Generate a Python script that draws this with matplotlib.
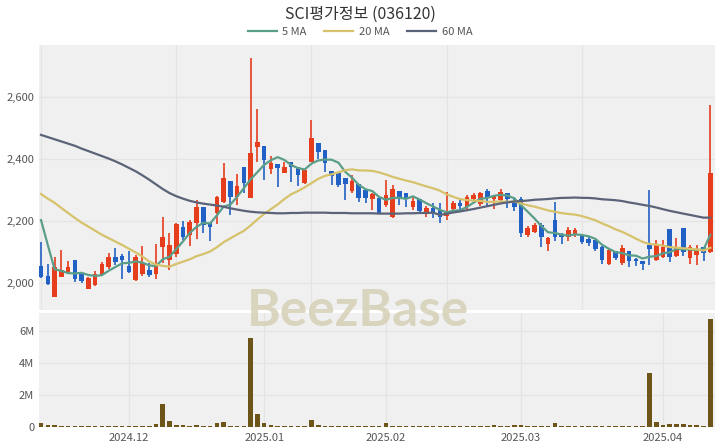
import numpy as np
import pandas as pd
import matplotlib
matplotlib.use("Agg")
import matplotlib.pyplot as plt

plt.rcParams["font.family"] = ["Noto Sans CJK KR", "DejaVu Sans"]

# =====================================
# DATA
# =====================================

TITLE = "SCI평가정보 (036120)"

opens = [2056, 2024, 1957, 2021, 2035, 2075, 2030, 1983, 1994, 2027,
         2051, 2086, 2088, 2056, 2011, 2030, 2043, 2030, 2118, 2075,
         2094, 2180, 2155, 2193, 2244, 2193, 2225, 2262, 2329, 2278,
         2374, 2273, 2439, 2442, 2368, 2384, 2356, 2391, 2373, 2323,
         2391, 2450, 2428, 2362, 2354, 2338, 2298, 2319, 2300, 2270,
         2273, 2252, 2212, 2298, 2291, 2244, 2270, 2223, 2241, 2236,
         2215, 2238, 2259, 2244, 2270, 2255, 2298, 2272, 2268, 2289,
         2259, 2270, 2155, 2166, 2187, 2126, 2204, 2158, 2150, 2158,
         2155, 2142, 2139, 2116, 2062, 2105, 2064, 2105, 2077, 2072,
         2123, 2075, 2086, 2174, 2088, 2177, 2080, 2091, 2116, 2102]
highs = [2134, 2062, 2085, 2107, 2072, 2075, 2034, 2021, 2038, 2069,
         2098, 2112, 2094, 2105, 2090, 2120, 2065, 2126, 2214, 2163,
         2194, 2200, 2205, 2268, 2244, 2193, 2281, 2387, 2329, 2351,
         2374, 2724, 2560, 2442, 2409, 2384, 2391, 2391, 2373, 2367,
         2525, 2450, 2428, 2362, 2354, 2338, 2348, 2319, 2300, 2289,
         2273, 2332, 2316, 2298, 2291, 2276, 2270, 2248, 2259, 2259,
         2295, 2265, 2268, 2283, 2291, 2292, 2302, 2284, 2302, 2289,
         2276, 2278, 2184, 2194, 2193, 2148, 2262, 2163, 2180, 2177,
         2155, 2148, 2139, 2120, 2111, 2105, 2123, 2105, 2081, 2072,
         2300, 2139, 2139, 2174, 2145, 2177, 2123, 2123, 2116, 2573]
lows = [2017, 1995, 1955, 2019, 2034, 2005, 2002, 1981, 1990, 2023,
        2045, 2059, 2013, 2032, 2008, 2023, 2020, 2013, 2064, 2043,
        2085, 2140, 2120, 2142, 2163, 2137, 2191, 2259, 2220, 2252,
        2290, 2273, 2391, 2332, 2351, 2309, 2354, 2327, 2313, 2320,
        2391, 2399, 2359, 2316, 2309, 2268, 2289, 2262, 2259, 2236,
        2222, 2246, 2209, 2252, 2246, 2234, 2225, 2214, 2209, 2195,
        2204, 2234, 2236, 2234, 2262, 2250, 2246, 2238, 2262, 2241,
        2233, 2148, 2148, 2163, 2118, 2105, 2137, 2126, 2137, 2150,
        2126, 2121, 2105, 2062, 2059, 2075, 2059, 2053, 2056, 2043,
        2059, 2073, 2080, 2067, 2084, 2088, 2062, 2059, 2070, 2096]
closes = [2020, 1998, 2051, 2043, 2051, 2015, 2008, 2016, 2029, 2062,
          2086, 2069, 2075, 2037, 2084, 2066, 2026, 2062, 2148, 2123,
          2191, 2150, 2197, 2246, 2187, 2182, 2278, 2339, 2278, 2313,
          2321, 2419, 2455, 2396, 2387, 2371, 2373, 2373, 2348, 2364,
          2466, 2423, 2388, 2345, 2316, 2319, 2330, 2273, 2273, 2287,
          2225, 2284, 2302, 2276, 2270, 2266, 2233, 2241, 2225, 2214,
          2228, 2259, 2248, 2278, 2284, 2289, 2273, 2282, 2295, 2270,
          2246, 2161, 2177, 2187, 2150, 2145, 2150, 2150, 2171, 2171,
          2134, 2129, 2109, 2075, 2107, 2080, 2113, 2073, 2070, 2062,
          2109, 2123, 2118, 2086, 2118, 2102, 2118, 2109, 2096, 2354]

# volume in millions of shares
volumes = [0.25, 0.10, 0.10, 0.05, 0.05, 0.05, 0.04, 0.05, 0.05, 0.04,
           0.05, 0.05, 0.04, 0.05, 0.05, 0.04, 0.05, 0.17, 1.43, 0.38,
           0.13, 0.10, 0.06, 0.13, 0.07, 0.06, 0.25, 0.34, 0.08, 0.07,
           0.06, 5.57, 0.80, 0.27, 0.10, 0.08, 0.07, 0.05, 0.08, 0.08,
           0.42, 0.13, 0.07, 0.07, 0.05, 0.05, 0.05, 0.05, 0.05, 0.04,
           0.07, 0.25, 0.07, 0.05, 0.04, 0.05, 0.05, 0.04, 0.05, 0.04,
           0.06, 0.06, 0.05, 0.05, 0.05, 0.06, 0.05, 0.10, 0.05, 0.05,
           0.10, 0.10, 0.05, 0.05, 0.05, 0.05, 0.23, 0.05, 0.05, 0.04,
           0.04, 0.04, 0.05, 0.05, 0.04, 0.04, 0.05, 0.05, 0.04, 0.05,
           3.36, 0.31, 0.13, 0.21, 0.21, 0.19, 0.11, 0.15, 0.06, 6.72]

# moving-average values before the window is full
ma5_head = [2203, 2123, 2045, 2040]
ma20_head = [2287, 2272, 2259, 2242, 2226, 2210, 2195, 2182, 2169, 2156,
             2145, 2134, 2123, 2111, 2099, 2086, 2070, 2060, 2056]
ma60_head = [2477, 2470, 2463, 2456, 2449, 2442, 2433, 2425, 2417, 2409,
             2401, 2392, 2382, 2371, 2360, 2347, 2333, 2318, 2303, 2290,
             2280, 2272, 2265, 2260, 2256, 2253, 2250, 2246, 2241, 2237,
             2233, 2230, 2228, 2227, 2226, 2225, 2225, 2226, 2226, 2227,
             2227, 2227, 2227, 2226, 2226, 2226, 2225, 2225, 2225, 2225,
             2224, 2224, 2224, 2224, 2225, 2225, 2226, 2226, 2227]

price_ticks = [2000, 2200, 2400, 2600]
price_tick_labels = ["2,000", "2,200", "2,400", "2,600"]
vol_ticks = [0, 2, 4, 6]
vol_tick_labels = ["0", "2M", "4M", "6M"]
month_pos = [13, 33, 51, 71, 92]
month_labels = ["2024.12", "2025.01", "2025.02", "2025.03", "2025.04"]

# =====================================
# STYLE
# =====================================

UP = "#e63d1c"
DOWN = "#2160c4"
C_MA5 = "#5a9e8a"
C_MA20 = "#d6c26a"
C_MA60 = "#5b6378"
VOL = "#6d5519"
BG = "#f0f0f0"
TXT = "#555555"

df = pd.DataFrame({"open": opens, "high": highs, "low": lows,
                   "close": closes, "volume": volumes})
x = np.arange(len(df))


def moving_avg(s, n, head):
    m = s.rolling(n).mean()
    m.iloc[:len(head)] = head
    return m


ma5 = moving_avg(df["close"], 5, ma5_head)
ma20 = moving_avg(df["close"], 20, ma20_head)
ma60 = moving_avg(df["close"], 60, ma60_head)

# =====================================
# FIGURE
# =====================================

fig = plt.figure(figsize=(7.2, 4.48), dpi=100)
ax = fig.add_axes([0.0542, 0.308, 0.9389, 0.5915])
axv = fig.add_axes([0.0542, 0.0469, 0.9389, 0.2545])

for a in (ax, axv):
    a.set_facecolor(BG)
    for s in a.spines.values():
        s.set_visible(False)
    a.tick_params(length=0, labelsize=8, colors=TXT)
    a.set_xlim(-0.3, 99.7)

# price panel
ax.set_ylim(1914, 2766)
ax.set_yticks(price_ticks)
ax.set_yticklabels(price_tick_labels)
ax.set_xticks([0, 20, 40, 60, 80])
ax.set_xticklabels([])
ax.grid(True, color="#e4e4e4", linewidth=0.9)
ax.set_axisbelow(True)

up = df["close"] >= df["open"]
colors = np.where(up, UP, DOWN)
body_lo = np.minimum(df["open"], df["close"])
body_h = np.maximum((df["close"] - df["open"]).abs(), 3)

ax.vlines(x, df["low"], df["high"], colors=colors, linewidth=1.2, zorder=2)
ax.bar(x, body_h, bottom=body_lo, width=0.68, color=colors, zorder=3)

ax.plot(x, ma5, color=C_MA5, linewidth=1.6, label="5 MA", zorder=4)
ax.plot(x, ma20, color=C_MA20, linewidth=1.6, label="20 MA", zorder=4)
ax.plot(x, ma60, color=C_MA60, linewidth=1.6, label="60 MA", zorder=4)

# volume panel
axv.set_ylim(0, 7.12)
axv.set_yticks(vol_ticks)
axv.set_yticklabels(vol_tick_labels)
axv.set_xticks(month_pos)
axv.set_xticklabels(month_labels)
axv.tick_params(axis="x", pad=4)
axv.grid(True, color="#e4e4e4", linewidth=0.9)
axv.set_axisbelow(True)
axv.bar(x, df["volume"], width=0.68, color=VOL, zorder=3)

# title / legend / watermark
fig.text(0.5, 0.968, TITLE, ha="center", va="center", fontsize=11.5,
         color="#333333")
fig.legend(loc="center", bbox_to_anchor=(0.5, 0.928), ncol=3,
           frameon=False, fontsize=8, handlelength=2.6, columnspacing=1.6,
           handletextpad=0.5, labelcolor=TXT)
fig.text(0.497, 0.305, "BeezBase", ha="center", va="center", fontsize=37,
         fontweight="bold", family="Lato", color="#d6d0b6",
         alpha=0.85, zorder=10)

fig.savefig("out.png", dpi=100)
